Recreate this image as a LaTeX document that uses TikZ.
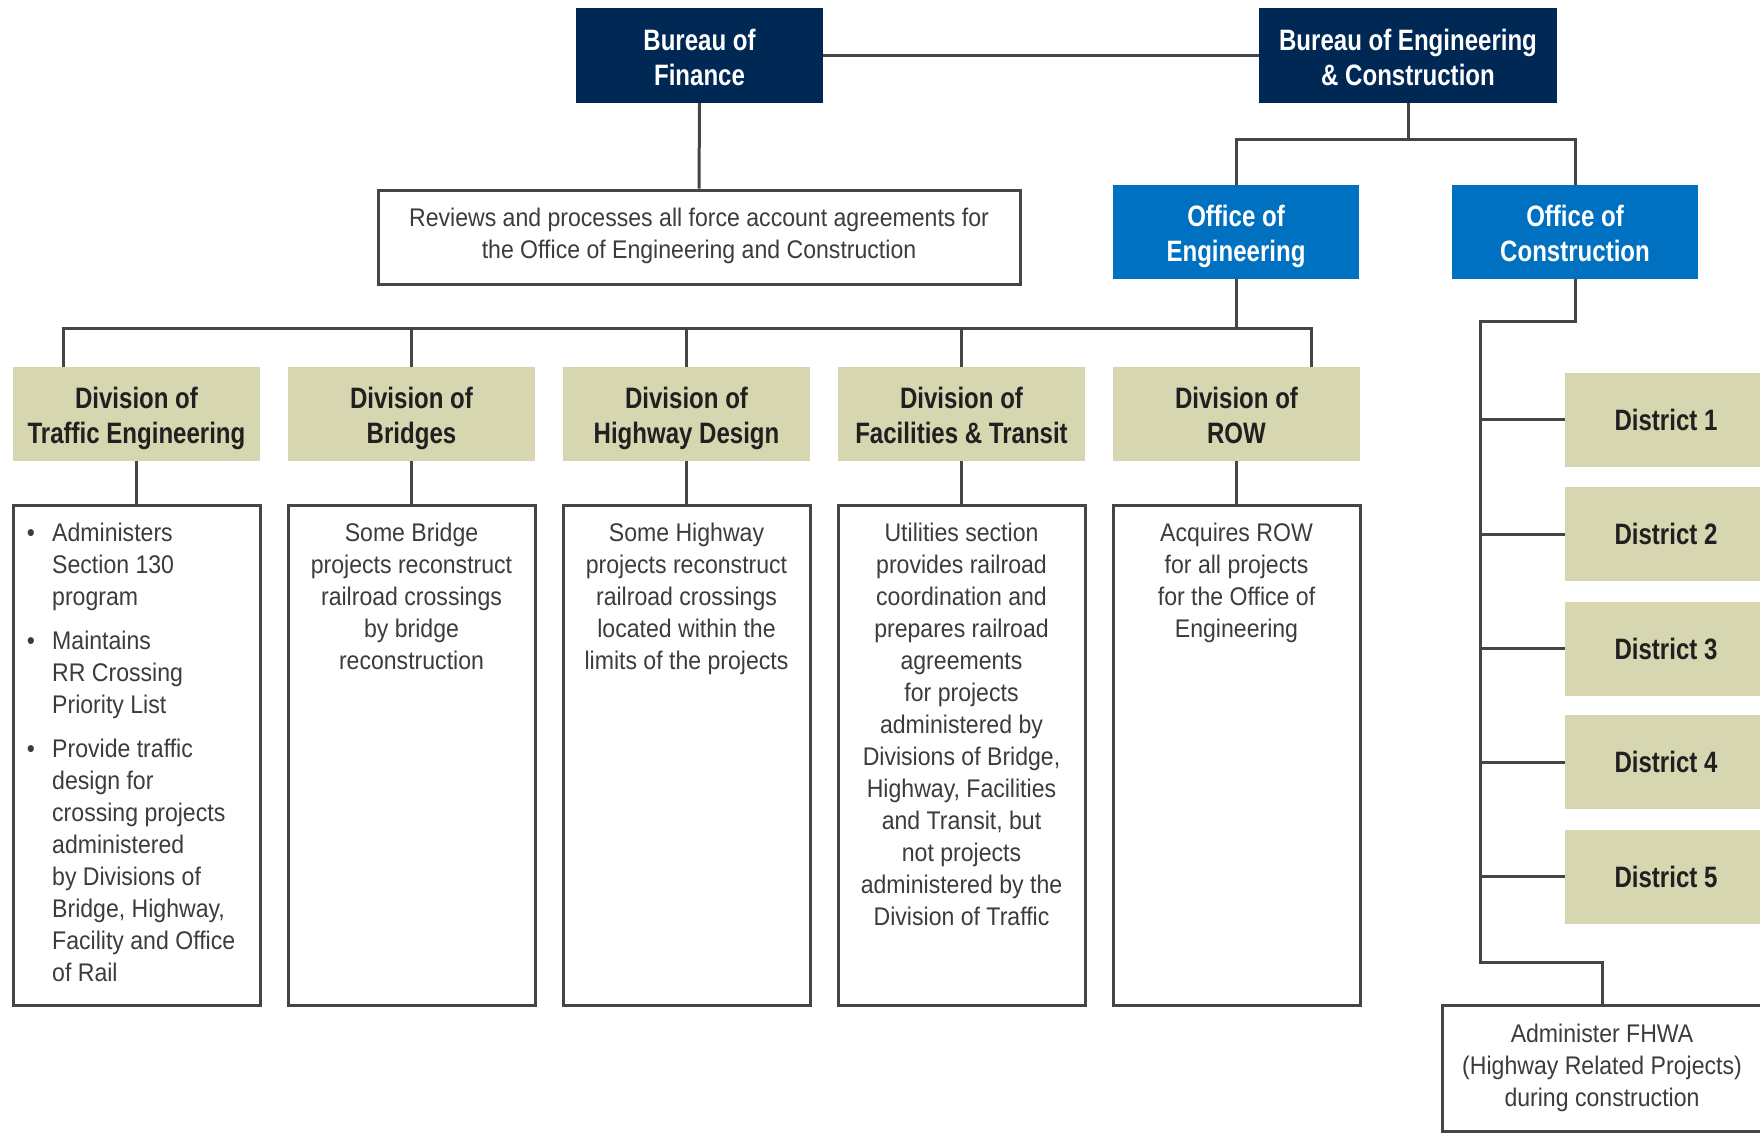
\documentclass[tikz,border=0pt]{standalone}
\usepackage{fontspec}
\setmainfont{Liberation Sans}[FakeStretch=0.905]
\newfontfamily\hdfont{Liberation Sans}[FakeStretch=0.815]
\definecolor{navy}{HTML}{002855}
\definecolor{offblue}{HTML}{0070C0}
\definecolor{khaki}{HTML}{D6D6B1}
\definecolor{linegray}{HTML}{454545}
\definecolor{txtgray}{HTML}{3C3C3C}
\definecolor{darktxt}{HTML}{231F20}
\newcommand\twoline[2]{\rule{0pt}{32pt}#1\\#2\rule[-8pt]{0pt}{8pt}}
\tikzset{
  conn/.style={draw=linegray, line width=3pt},
  hdfontstyle/.style={font=\hdfont\bfseries\fontsize{29.5}{35}\selectfont},
  topbox/.style={fill=navy, text=white, inner sep=0pt, minimum width=247pt, minimum height=95pt, align=center, hdfontstyle},
  officebox/.style={fill=offblue, text=white, inner sep=0pt, minimum width=246pt, minimum height=94pt, align=center, hdfontstyle},
  divbox/.style={fill=khaki, text=darktxt, inner sep=0pt, minimum width=247pt, minimum height=94pt, align=center, hdfontstyle},
  distbox/.style={fill=khaki, text=darktxt, inner sep=0pt, minimum width=202pt, minimum height=94pt, align=center, hdfontstyle},
  outbox/.style={draw=linegray, line width=3pt, fill=white, inner sep=0pt},
  desctext/.style={text=txtgray, inner sep=0pt, font=\fontsize{25.5}{32}\selectfont},
}
\begin{document}
\begin{tikzpicture}[x=1pt,y=-1pt]
\useasboundingbox (0,0) rectangle (1760,1133);
% top level
\node[topbox] (bf) at (699.5,55.5) {\twoline{Bureau of}{Finance}};
\node[topbox, minimum width=298pt] (bec) at (1408,55.5) {\twoline{Bureau of Engineering}{\& Construction}};
\node[outbox, minimum width=642pt, minimum height=94pt] (rev) at (699,237) {};
\node[desctext, align=center] at ([yshift=1pt]rev.center) {Reviews and processes all force account agreements for\\the Office of Engineering and Construction};
\node[officebox] (oe) at (1236,232) {\twoline{Office of}{Engineering}};
\node[officebox] (oc) at (1575,232) {\twoline{Office of}{Construction}};
% divisions
\node[divbox] (div1) at (136.5,414) {\twoline{Division of}{Traffic Engineering}};
\node[divbox] (div2) at (411.5,414) {\twoline{Division of}{Bridges}};
\node[divbox] (div3) at (686.5,414) {\twoline{Division of}{Highway Design}};
\node[divbox] (div4) at (961.5,414) {\twoline{Division of}{Facilities \& Transit}};
\node[divbox] (div5) at (1236.5,414) {\twoline{Division of}{ROW}};
% description boxes
\foreach \i/\x in {1/136.5,2/411.5,3/686.5,4/961.5,5/1236.5}{
  \node[outbox, minimum width=247pt, minimum height=500pt] (desc\i) at (\x,755) {};
}
% bullets in desc1
\node[desctext, anchor=base] at (31,541) {•};
\node[desctext, anchor=base] at (31,649) {•};
\node[desctext, anchor=base] at (31,757) {•};
\node[desctext, anchor=north west, align=left] at (52,519) {\strut Administers\\Section 130\\program};
\node[desctext, anchor=north west, align=left] at (52,627) {\strut Maintains\\RR Crossing\\Priority List};
\node[desctext, anchor=north west, align=left] at (52,735) {\strut Provide traffic\\design for\\crossing projects\\administered\\by Divisions of\\Bridge, Highway,\\Facility and Office\\of Rail};
\node[desctext, anchor=north, align=center, yshift=-15pt] at (desc2.north) {\strut Some Bridge\\projects reconstruct\\railroad crossings\\by bridge\\reconstruction};
\node[desctext, anchor=north, align=center, yshift=-15pt] at (desc3.north) {\strut Some Highway\\projects reconstruct\\railroad crossings\\located within the\\limits of the projects};
\node[desctext, anchor=north, align=center, yshift=-15pt] at (desc4.north) {\strut Utilities section\\provides railroad\\coordination and\\prepares railroad\\agreements\\for projects\\administered by\\Divisions of Bridge,\\Highway, Facilities\\and Transit, but\\not projects\\administered by the\\Division of Traffic};
\node[desctext, anchor=north, align=center, yshift=-15pt] at (desc5.north) {\strut Acquires ROW\\for all projects\\for the Office of\\Engineering};
% districts
\node[distbox] (dist1) at (1666,419.8) {District 1};
\node[distbox] (dist2) at (1666,534) {District 2};
\node[distbox] (dist3) at (1666,648.8) {District 3};
\node[distbox] (dist4) at (1666,762) {District 4};
\node[distbox] (dist5) at (1666,876.6) {District 5};
\node[outbox, minimum width=320pt, minimum height=126pt] (fhwa) at (1602,1068) {};
\node[desctext, align=center] at (fhwa.center) {Administer FHWA\\(Highway Related Projects)\\during construction};
% junction coordinates
\coordinate (bj) at (1408,139);
\coordinate (oj) at (1236,328);
\coordinate (d1x) at (63,328);
\coordinate (d5x) at (1311,328);
\coordinate (cj) at (1480,321);
\coordinate (cb) at (1480,962);
% connectors
\draw[conn] (bf.east) -- (bec.west);
\draw[conn] (bf.south) -- (rev.north);
\draw[conn] (bec.south) -- (bj);
\draw[conn] (oe.north) -- (oe.north |- bj) -- (oc.north |- bj) -- (oc.north);
\draw[conn] (oe.south) -- (oj);
\draw[conn] (div1.north -| d1x) -- (d1x) -- (d5x) -- (div5.north -| d5x);
\draw[conn] (div2.north) -- (div2.north |- d1x);
\draw[conn] (div3.north) -- (div3.north |- d1x);
\draw[conn] (div4.north) -- (div4.north |- d1x);
\foreach \i in {1,...,5}{
  \draw[conn] (div\i.south) -- (desc\i.north);
}
\draw[conn] (oc.south) |- (cj) -- (cb) -| (fhwa.north);
\foreach \i in {1,...,5}{
  \draw[conn] (cj |- dist\i.west) -- (dist\i.west);
}
\end{tikzpicture}
\end{document}
